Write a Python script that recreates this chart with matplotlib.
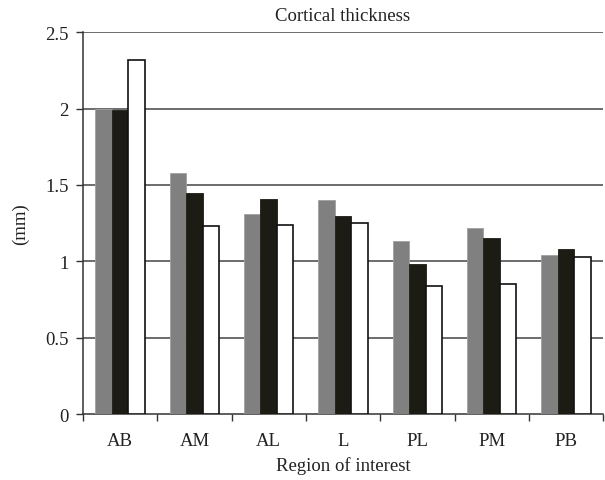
import numpy as np
import matplotlib.pyplot as plt

plt.rcParams['font.family'] = ['Liberation Serif', 'DejaVu Serif']

regions = ['AB', 'AM', 'AL', 'L', 'PL', 'PM', 'PB']
series_gray = [2.00, 1.58, 1.31, 1.40, 1.13, 1.22, 1.04]
series_black = [1.99, 1.45, 1.41, 1.30, 0.98, 1.15, 1.08]
series_white = [2.32, 1.23, 1.24, 1.25, 0.84, 0.85, 1.03]

fig = plt.figure(figsize=(6.05, 4.81), dpi=100)
ax = fig.add_axes([0.137, 0.137, 0.86, 0.794])

x = np.arange(len(regions))
w = 0.222
ax.bar(x - w, series_gray, w, color='#808080', edgecolor='#a0a0a0', linewidth=0.6, zorder=3)
ax.bar(x, series_black, w, color='#1c1c14', edgecolor='#1c1c14', linewidth=0.6, zorder=3)
ax.bar(x + w, series_white, w, color='white', edgecolor='#111111', linewidth=1.2, zorder=3)

ax.set_xlim(-0.5, len(regions) - 0.5)
ax.set_ylim(0, 2.5)
ax.set_yticks([0, 0.5, 1, 1.5, 2, 2.5])
ax.set_yticklabels(['0', '0.5', '1', '1.5', '2', '2.5'])
ax.set_xticks(x)
ax.set_xticklabels(regions)
ax.set_xticks(np.arange(len(regions) + 1) - 0.5, minor=True)
ax.tick_params(axis='x', which='major', length=0, pad=13, labelsize=13.5, colors='#222222')
ax.tick_params(axis='x', which='minor', length=5, width=1, direction='out', color='#333333')
ax.tick_params(axis='y', length=5, width=1, direction='out', pad=5, labelsize=13.5, colors='#222222', color='#333333')

for yv in [0.5, 1, 1.5, 2, 2.5]:
    ax.axhline(yv, color='#444444', lw=1.1, zorder=1)

for side in ['top', 'right']:
    ax.spines[side].set_visible(False)
ax.spines['left'].set_color('#333333')
ax.spines['bottom'].set_color('#333333')
ax.spines['left'].set_linewidth(1.1)
ax.spines['bottom'].set_linewidth(1.1)

ax.set_title('Cortical thickness', fontsize=13.5, color='#222222', pad=9)
ax.set_ylabel('(mm)', fontsize=13.5, color='#222222', labelpad=12)
ax.set_xlabel('Region of interest', fontsize=13.5, color='#222222', labelpad=5)

fig.savefig('out.png', dpi=100)
